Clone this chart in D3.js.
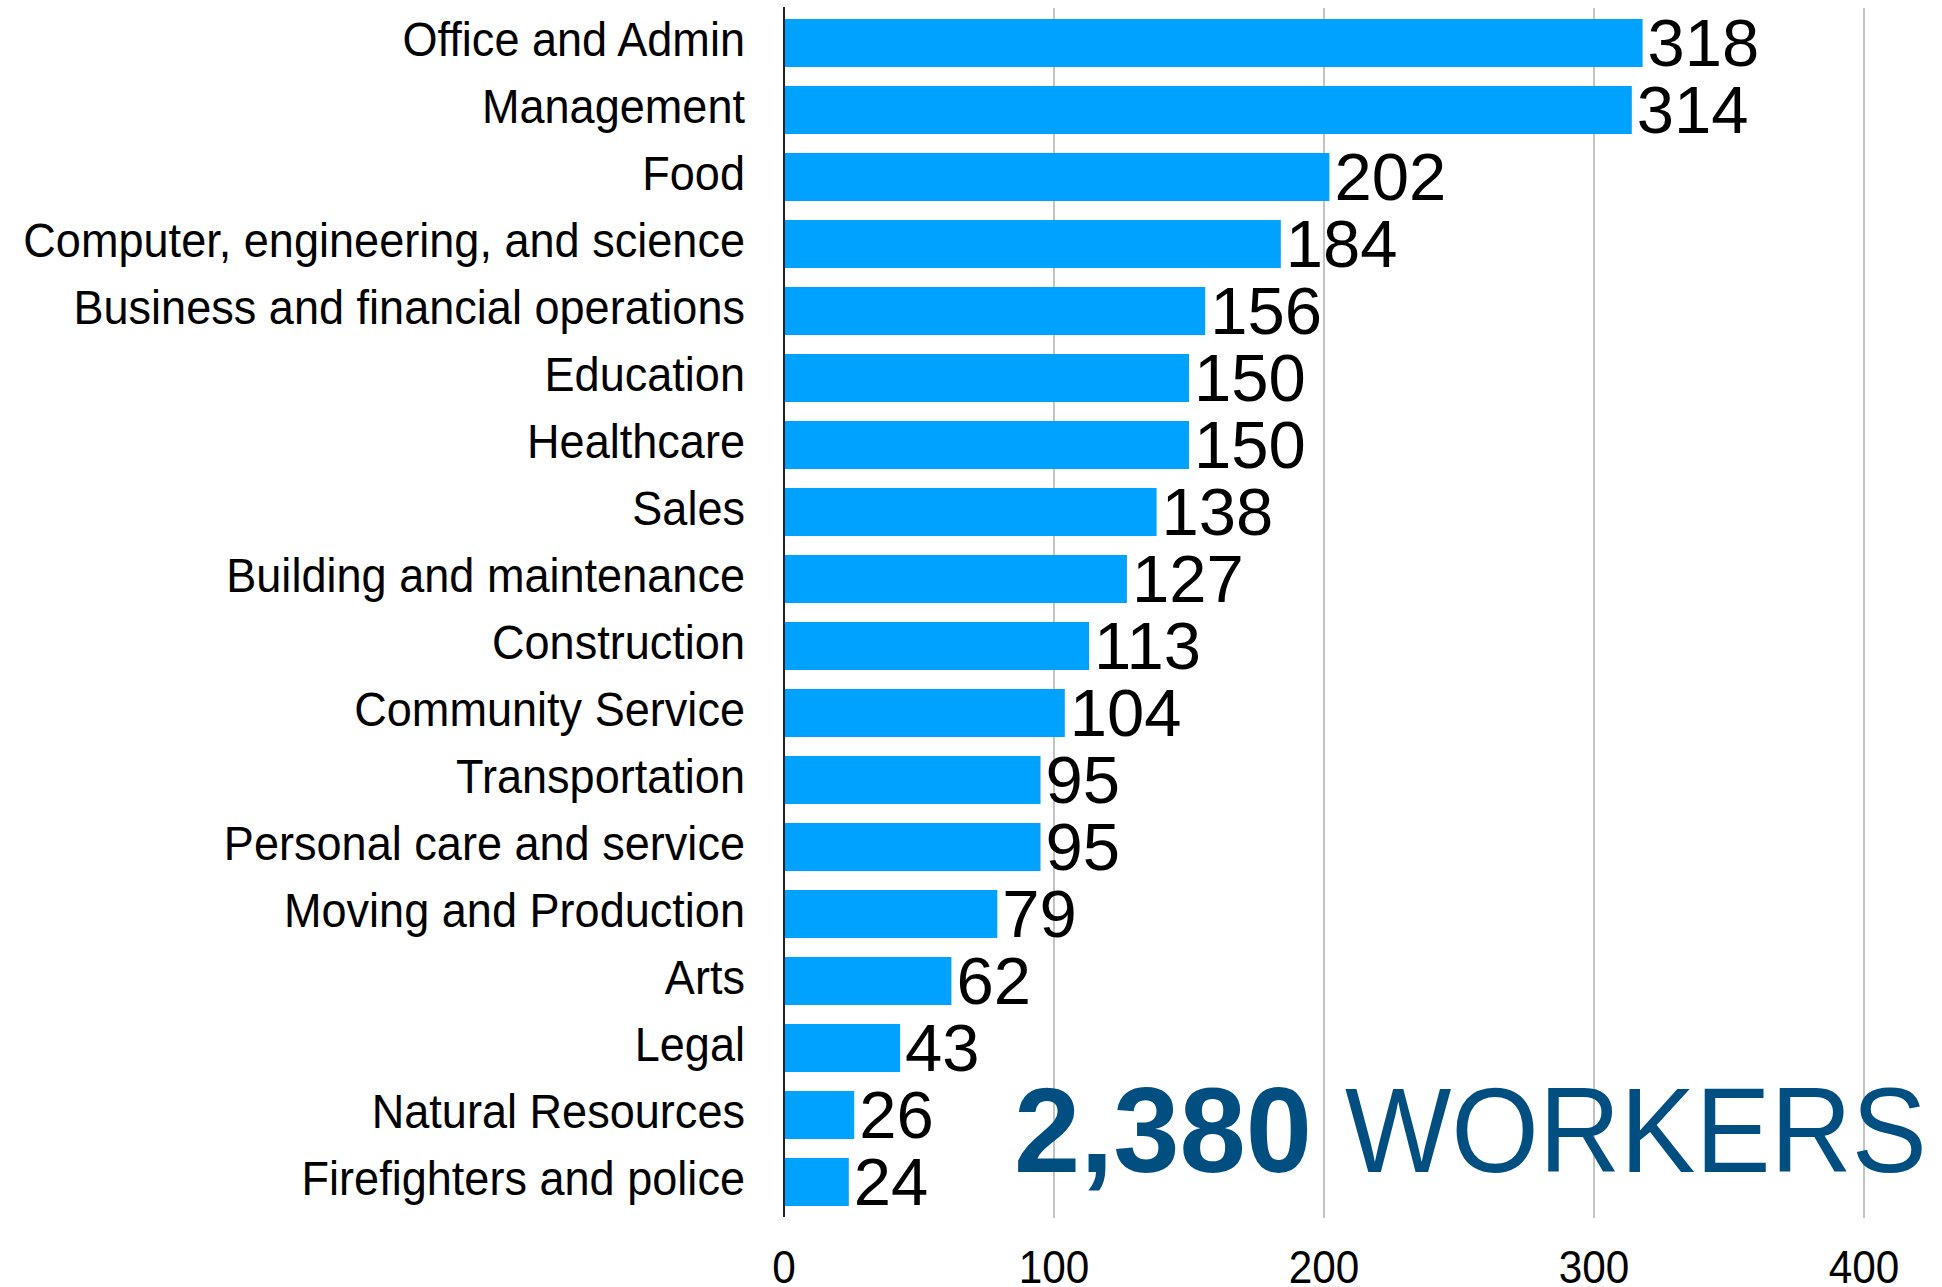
<!DOCTYPE html>
<html>
<head>
<meta charset="utf-8">
<script src="https://cdn.jsdelivr.net/npm/d3@7"></script>
<style>
  html, body { margin: 0; padding: 0; background: #fff; }
  svg { display: block; }
  text { font-family: "Liberation Sans", Arial, sans-serif; }
</style>
</head>
<body>
<svg id="chart" width="1942" height="1287"></svg>
<script>
const categories = [
  "Office and Admin", "Management", "Food", "Computer, engineering, and science",
  "Business and financial operations", "Education", "Healthcare", "Sales",
  "Building and maintenance", "Construction", "Community Service", "Transportation",
  "Personal care and service", "Moving and Production", "Arts", "Legal",
  "Natural Resources", "Firefighters and police"
];
const values = [318, 314, 202, 184, 156, 150, 150, 138, 127, 113, 104, 95, 95, 79, 62, 43, 26, 24];
const tickValues = [0, 100, 200, 300, 400];
const totalLabel = "2,380";
const totalWord = "WORKERS";

const svg = d3.select("#chart");
const x = d3.scaleLinear().domain([0, 400]).range([784, 1864]);
const y = d3.scaleBand().domain(categories).range([9.5, 1215.5])
  .paddingInner(0.2836).paddingOuter(0.1418);

// gridlines
svg.append("g").selectAll("line").data(tickValues.filter(d => d > 0)).join("line")
  .attr("x1", d => x(d)).attr("x2", d => x(d))
  .attr("y1", 8).attr("y2", 1218)
  .attr("stroke", "#c3c3c3").attr("stroke-width", 2);

// bars
svg.append("g").selectAll("rect").data(values).join("rect")
  .attr("x", x(0))
  .attr("y", (d, i) => y(categories[i]))
  .attr("width", d => x(d) - x(0))
  .attr("height", y.bandwidth())
  .attr("fill", "#00a2ff");

// axis line
svg.append("line")
  .attr("x1", x(0)).attr("x2", x(0)).attr("y1", 7).attr("y2", 1217)
  .attr("stroke", "#222").attr("stroke-width", 2);

// category labels (slightly condensed)
svg.append("g").selectAll("text").data(categories).join("text")
  .attr("transform", d => `translate(745,${y(d) + y.bandwidth() / 2 - 4}) scale(0.92,1)`)
  .attr("dy", "0.35em")
  .attr("text-anchor", "end")
  .attr("font-size", 49)
  .attr("fill", "#000")
  .text(d => d);

// value labels
svg.append("g").selectAll("text").data(values).join("text")
  .attr("x", d => x(d) + 5)
  .attr("y", (d, i) => y(categories[i]) + y.bandwidth() / 2)
  .attr("dy", "0.35em")
  .attr("font-size", 67)
  .attr("fill", "#000")
  .text(d => d);

// x tick labels
svg.append("g").selectAll("text").data(tickValues).join("text")
  .attr("transform", d => `translate(${x(d)},1283) scale(0.9,1)`)
  .attr("text-anchor", "middle")
  .attr("font-size", 47)
  .attr("fill", "#000")
  .text(d => d);

// total annotation
svg.append("text")
  .attr("x", 1014).attr("y", 1172)
  .attr("font-size", 121)
  .attr("font-weight", "bold")
  .attr("fill", "#014f80")
  .attr("textLength", 298)
  .attr("lengthAdjust", "spacingAndGlyphs")
  .text(totalLabel);
svg.append("text")
  .attr("x", 1345).attr("y", 1172)
  .attr("font-size", 121)
  .attr("fill", "#014f80")
  .attr("textLength", 582)
  .attr("lengthAdjust", "spacingAndGlyphs")
  .text(totalWord);
</script>
</body>
</html>
